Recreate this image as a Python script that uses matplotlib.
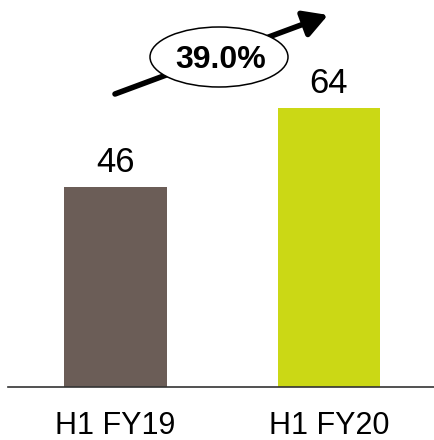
import matplotlib
matplotlib.use("Agg")
import matplotlib.pyplot as plt
from matplotlib.patches import Ellipse, FancyArrowPatch

categories = ["H1 FY19", "H1 FY20"]
values = [46, 64]
bar_colors = ["#6b5d57", "#cbd815"]
growth_label = "39.0%"

plt.rcParams['font.family'] = ['Liberation Sans', 'DejaVu Sans']

W, H = 434, 440
fig = plt.figure(figsize=(W / 100, H / 100), dpi=100)
ax = fig.add_axes([8 / W, 53 / H, 426 / W, 387 / H])

x = list(range(len(categories)))
ax.bar(x, values, width=0.482, color=bar_colors)
for xi, v in zip(x, values):
    ax.annotate(str(v), xy=(xi, v), xytext=(0, 10.8), textcoords='offset points',
                ha='center', va='baseline', fontsize=25, color='black')

ax.set_xlim(-0.5035, 1.4918)
ax.set_ylim(0, 88.9)
ax.set_xticks(x, categories, fontsize=22)
ax.tick_params(axis='x', length=0, pad=17)
ax.set_yticks([])
for s in ['left', 'right', 'top']:
    ax.spines[s].set_visible(False)
ax.spines['bottom'].set_linewidth(1.2)
ax.spines['bottom'].set_color('#333333')

# growth arrow with ellipse label
arrow = FancyArrowPatch((115 / W, 1 - 94 / H), (328 / W, 1 - 15 / H),
                        transform=fig.transFigure,
                        arrowstyle='-|>,head_length=0.8,head_width=0.45',
                        mutation_scale=18, lw=4, color='black',
                        shrinkA=0, shrinkB=0, zorder=3)
fig.add_artist(arrow)
ell = Ellipse((219 / W, 1 - 57 / H), 138 / W, 60 / H, transform=fig.transFigure,
              facecolor='white', edgecolor='black', lw=1.1, zorder=4)
fig.add_artist(ell)
fig.text(221 / W, 1 - 68 / H, growth_label, ha='center', va='baseline',
         fontsize=23, fontweight='bold', zorder=5)

fig.savefig("out.png", dpi=100)
